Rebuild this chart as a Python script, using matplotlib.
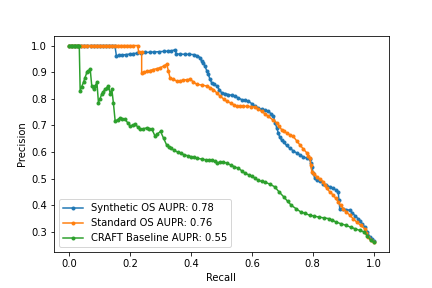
import matplotlib
matplotlib.use("Agg")
import matplotlib.pyplot as plt

# values
recall_syn = [0.0, 0.01, 0.02, 0.03, 0.04, 0.05, 0.06, 0.07, 0.08, 0.09, 0.10, 0.11, 0.12,
              0.13, 0.14, 0.15, 0.155, 0.165, 0.175, 0.185, 0.2, 0.21, 0.222, 0.235, 0.25,
              0.265, 0.28, 0.295, 0.31, 0.325, 0.335, 0.348, 0.352, 0.365, 0.38, 0.395,
              0.41, 0.42, 0.43, 0.435, 0.44, 0.446, 0.452, 0.457, 0.462, 0.468, 0.476,
              0.485, 0.493, 0.501, 0.512, 0.523, 0.534, 0.545, 0.556, 0.567, 0.578, 0.588,
              0.6, 0.61, 0.621, 0.632, 0.643, 0.654, 0.663, 0.671, 0.677, 0.682, 0.687,
              0.692, 0.698, 0.705, 0.714, 0.725, 0.736, 0.747, 0.758, 0.769, 0.78, 0.79,
              0.794, 0.797, 0.802, 0.807, 0.815, 0.825, 0.835, 0.845, 0.856, 0.867, 0.876,
              0.884, 0.886, 0.889, 0.9, 0.91, 0.922, 0.93, 0.94, 0.949, 0.956, 0.963,
              0.971, 0.98, 0.988, 0.994, 1.0]
prec_syn = [1.0, 1.0, 1.0, 1.0, 1.0, 1.0, 1.0, 1.0, 1.0, 1.0, 1.0, 1.0, 1.0,
            1.0, 1.0, 1.0, 0.962, 0.963, 0.965, 0.966, 0.968, 0.97, 0.971, 0.972, 0.974,
            0.975, 0.976, 0.977, 0.978, 0.979, 0.98, 0.984, 0.968, 0.968, 0.967, 0.967,
            0.966, 0.962, 0.955, 0.942, 0.935, 0.923, 0.905, 0.892, 0.875, 0.860, 0.855,
            0.848, 0.835, 0.822, 0.82, 0.816, 0.813, 0.81, 0.803, 0.797, 0.794, 0.791,
            0.782, 0.772, 0.766, 0.76, 0.757, 0.753, 0.744, 0.734, 0.71, 0.69, 0.672,
            0.655, 0.645, 0.638, 0.625, 0.615, 0.605, 0.597, 0.59, 0.582, 0.578, 0.575,
            0.56, 0.545, 0.52, 0.501, 0.495, 0.49, 0.482, 0.476, 0.47, 0.464, 0.458,
            0.451, 0.42, 0.388, 0.386, 0.384, 0.382, 0.372, 0.36, 0.35, 0.34, 0.33,
            0.319, 0.3, 0.281, 0.275, 0.268]

recall_std = [0.0, 0.01, 0.02, 0.03, 0.04, 0.05, 0.06, 0.07, 0.08, 0.09, 0.10, 0.11, 0.12,
              0.13, 0.14, 0.15, 0.16, 0.17, 0.18, 0.19, 0.20, 0.21, 0.225, 0.228, 0.238,
              0.238, 0.247, 0.255, 0.265, 0.275, 0.287, 0.299, 0.31, 0.32, 0.326, 0.331,
              0.342, 0.353, 0.364, 0.375, 0.386, 0.397, 0.408, 0.419, 0.435, 0.452, 0.463,
              0.474, 0.485, 0.496, 0.507, 0.518, 0.53, 0.54, 0.55, 0.561, 0.572, 0.583,
              0.597, 0.61, 0.621, 0.632, 0.643, 0.654, 0.668, 0.682, 0.69, 0.698, 0.706,
              0.714, 0.725, 0.736, 0.747, 0.758, 0.769, 0.78, 0.786, 0.791, 0.794, 0.797,
              0.805, 0.813, 0.824, 0.835, 0.84, 0.846, 0.856, 0.867, 0.876, 0.884, 0.892,
              0.9, 0.911, 0.922, 0.933, 0.944, 0.958, 0.971, 0.976, 0.982, 0.99, 1.0]
prec_std = [1.0, 1.0, 1.0, 1.0, 1.0, 1.0, 1.0, 1.0, 1.0, 1.0, 1.0, 1.0, 1.0,
            1.0, 1.0, 1.0, 1.0, 1.0, 1.0, 1.0, 1.0, 1.0, 1.0, 0.976, 0.976,
            0.898, 0.9, 0.903, 0.906, 0.91, 0.913, 0.917, 0.923, 0.93, 0.905, 0.879,
            0.873, 0.867, 0.868, 0.87, 0.872, 0.873, 0.864, 0.854, 0.852, 0.848, 0.842,
            0.835, 0.822, 0.81, 0.8, 0.79, 0.785, 0.778, 0.772, 0.772, 0.772, 0.772,
            0.771, 0.77, 0.762, 0.753, 0.744, 0.734, 0.722, 0.709, 0.697, 0.684, 0.678,
            0.672, 0.665, 0.659, 0.643, 0.627, 0.612, 0.598, 0.587, 0.577, 0.55, 0.527,
            0.518, 0.508, 0.498, 0.489, 0.476, 0.464, 0.451, 0.439, 0.426, 0.413, 0.4,
            0.388, 0.375, 0.363, 0.35, 0.338, 0.325, 0.312, 0.296, 0.281, 0.272, 0.262]

recall_craft = [0.0, 0.005, 0.01, 0.015, 0.02, 0.025, 0.03, 0.033, 0.036, 0.041, 0.047,
                0.052, 0.058, 0.063, 0.069, 0.074, 0.08, 0.086, 0.091, 0.096, 0.101,
                0.107, 0.112, 0.118, 0.124, 0.129, 0.135, 0.14, 0.145, 0.151, 0.159,
                0.167, 0.175, 0.184, 0.192, 0.2, 0.208, 0.217, 0.225, 0.233, 0.244, 0.255,
                0.263, 0.272, 0.282, 0.29, 0.3, 0.31, 0.32, 0.327, 0.334, 0.345, 0.356,
                0.367, 0.378, 0.39, 0.40, 0.41, 0.42, 0.435, 0.45, 0.46, 0.47, 0.478,
                0.485, 0.495, 0.505, 0.518, 0.53, 0.543, 0.556, 0.567, 0.578, 0.59, 0.60,
                0.61, 0.62, 0.632, 0.643, 0.66, 0.675, 0.69, 0.705, 0.718, 0.73, 0.745,
                0.76, 0.775, 0.79, 0.805, 0.82, 0.838, 0.855, 0.865, 0.876, 0.893, 0.91,
                0.925, 0.94, 0.955, 0.97, 0.98, 0.99, 1.0]
prec_craft = [1.0, 1.0, 1.0, 1.0, 1.0, 1.0, 1.0, 1.0, 0.83, 0.846, 0.862,
              0.88, 0.899, 0.905, 0.911, 0.849, 0.836, 0.85, 0.862, 0.786, 0.8,
              0.818, 0.827, 0.836, 0.842, 0.849, 0.818, 0.836, 0.786, 0.716, 0.722,
              0.728, 0.725, 0.723, 0.71, 0.698, 0.701, 0.704, 0.695, 0.685, 0.688, 0.691,
              0.688, 0.685, 0.66, 0.668, 0.678, 0.652, 0.627, 0.621, 0.615, 0.607, 0.6,
              0.595, 0.59, 0.586, 0.583, 0.58, 0.577, 0.574, 0.571, 0.571, 0.571, 0.565,
              0.56, 0.562, 0.564, 0.558, 0.552, 0.545, 0.539, 0.53, 0.52, 0.515, 0.51,
              0.502, 0.495, 0.49, 0.488, 0.479, 0.47, 0.45, 0.432, 0.415, 0.40, 0.388,
              0.376, 0.37, 0.363, 0.36, 0.356, 0.353, 0.35, 0.344, 0.338, 0.331, 0.325,
              0.318, 0.312, 0.306, 0.30, 0.285, 0.27, 0.262]

labels = ["Synthetic OS AUPR: 0.78", "Standard OS AUPR: 0.76", "CRAFT Baseline AUPR: 0.55"]

fig = plt.figure(figsize=(6, 4), dpi=72)
plt.subplots_adjust(top=0.876, bottom=0.125)
plt.plot(recall_syn, prec_syn, marker='.', label=labels[0])
plt.plot(recall_std, prec_std, marker='.', label=labels[1])
plt.plot(recall_craft, prec_craft, marker='.', label=labels[2])
plt.xlabel('Recall')
plt.ylabel('Precision')
plt.legend(loc='lower left')
plt.savefig('out.png', dpi=72)
